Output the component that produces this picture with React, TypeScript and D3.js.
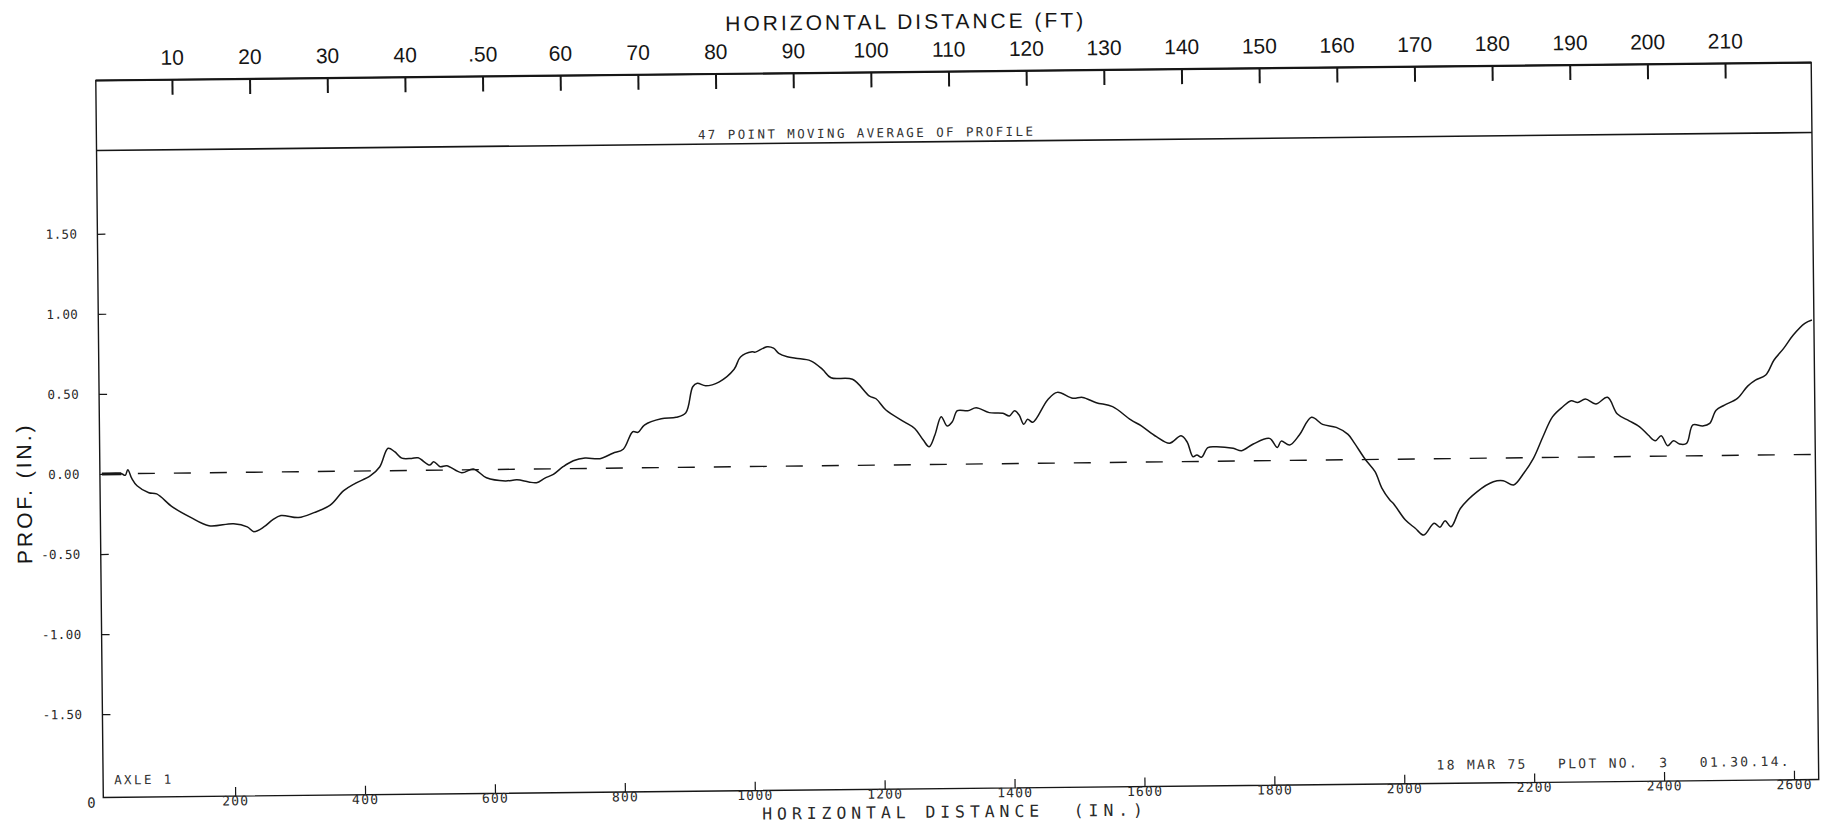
import React, { useRef, useEffect } from "react";
import * as d3 from "d3";

// profile: distance (in.) and 47 point moving average (in.)
const distanceIn = [
  0, 30, 36, 40, 46, 54, 72, 84, 108, 136, 164, 202, 223, 233, 249, 262, 275,
  302, 326, 351, 372, 390, 413, 428, 441, 451, 462, 477, 487, 505, 511, 521,
  531, 554, 572, 592, 621, 639, 657, 669, 682, 695, 710, 726, 744, 767, 787,
  803, 818, 826, 836, 862, 885, 900, 911, 918, 931, 952, 975, 985, 1003, 1008,
  1026, 1036, 1044, 1057, 1070, 1093, 1111, 1124, 1157, 1183, 1193, 1208, 1236,
  1252, 1265, 1274, 1283, 1293, 1302, 1310, 1318, 1334, 1347, 1367, 1388, 1398,
  1406, 1413, 1420, 1426, 1434, 1457, 1472, 1496, 1511, 1532, 1557, 1585, 1601,
  1624, 1644, 1662, 1671, 1680, 1686, 1693, 1703, 1716, 1742, 1755, 1773, 1798,
  1810, 1816, 1829, 1844, 1863, 1880, 1901, 1919, 1929, 1945, 1960, 1970, 1982,
  1988, 2006, 2021, 2034, 2050, 2059, 2067, 2076, 2091, 2117, 2142, 2157, 2173,
  2188, 2204, 2219, 2234, 2250, 2263, 2273, 2285, 2301, 2319, 2334, 2352, 2368,
  2381, 2392, 2401, 2411, 2420, 2429, 2440, 2450, 2465, 2476, 2486, 2499, 2519,
  2535, 2547, 2563, 2576, 2591, 2606, 2624, 2635,
];
const profileIn = [
  0, 0, -0.01, 0.025, -0.03, -0.076, -0.12, -0.128, -0.21, -0.277, -0.33,
  -0.319, -0.34, -0.37, -0.34, -0.298, -0.271, -0.285, -0.255, -0.21, -0.12,
  -0.075, -0.03, 0.027, 0.142, 0.12, 0.079, 0.077, 0.08, 0.034, 0.055, 0.023,
  0.029, -0.016, 0.007, -0.049, -0.07, -0.064, -0.078, -0.083, -0.055, -0.032,
  0.015, 0.052, 0.068, 0.063, 0.096, 0.12, 0.229, 0.225, 0.27, 0.308, 0.316,
  0.344, 0.506, 0.527, 0.511, 0.535, 0.612, 0.689, 0.72, 0.718, 0.751, 0.742,
  0.709, 0.687, 0.677, 0.66, 0.606, 0.553, 0.542, 0.436, 0.419, 0.348, 0.273,
  0.231, 0.158, 0.116, 0.189, 0.303, 0.244, 0.27, 0.339, 0.338, 0.356, 0.325,
  0.32, 0.303, 0.335, 0.308, 0.25, 0.281, 0.262, 0.4, 0.447, 0.409, 0.414, 0.38,
  0.354, 0.27, 0.232, 0.164, 0.122, 0.168, 0.13, 0.036, 0.047, 0.032, 0.092,
  0.097, 0.086, 0.071, 0.112, 0.146, 0.089, 0.128, 0.103, 0.165, 0.275, 0.23,
  0.21, 0.166, 0.109, 0.009, -0.069, -0.17, -0.245, -0.27, -0.373, -0.425,
  -0.468, -0.395, -0.42, -0.38, -0.418, -0.303, -0.2, -0.14, -0.134, -0.161,
  -0.093, 0.004, 0.138, 0.262, 0.324, 0.361, 0.35, 0.371, 0.339, 0.38, 0.275,
  0.232, 0.194, 0.142, 0.106, 0.137, 0.074, 0.105, 0.084, 0.087, 0.202, 0.195,
  0.211, 0.293, 0.324, 0.365, 0.441, 0.478, 0.509, 0.602, 0.674, 0.757, 0.829,
  0.849,
];

// dashed reference line
const baseDistance = [0, 2635];
const baseProfile = [0, 0.01];

const inchTicks = [200, 400, 600, 800, 1000, 1200, 1400, 1600, 1800, 2000, 2200, 2400, 2600];
const feetTicks = [10, 20, 30, 40, 50, 60, 70, 80, 90, 100, 110, 120, 130, 140, 150, 160, 170, 180, 190, 200, 210];
const feetLabels = ["10", "20", "30", "40", ".50", "60", "70", "80", "90", "100", "110", "120", "130", "140", "150", "160", "170", "180", "190", "200", "210"];
const profTicks = [1.5, 1, 0.5, 0, -0.5, -1, -1.5];
const profLabels = ["1.50", "1.00", "0.50", "0.00", "-0.50", "-1.00", "-1.50"];

const WIDTH = 1821;
const HEIGHT = 826;
const frame = { left: 99.5, right: 1815, top: 72, mid: 142, bottom: 789 };
// the scanned sheet sits a little crooked
const TILT = -0.6;
const PIVOT = [910, 430];

const PLOTTER = "'DejaVu Sans Mono', monospace";
const LETTERING = "'Liberation Sans', Arial, sans-serif";
const INK = "#161616";

function drawChart(svgEl: SVGSVGElement) {
  const svg = d3.select(svgEl);
  svg.selectAll("*").remove();

  svg.append("rect").attr("width", WIDTH).attr("height", HEIGHT).attr("fill", "#fff");

  const g = svg
    .append("g")
    .attr("transform", `rotate(${TILT}, ${PIVOT[0]}, ${PIVOT[1]})`);

  const x = d3.scaleLinear().domain([-3, 2638]).range([frame.left, frame.right]);
  const xFt = d3.scaleLinear().domain([0.2, 221.1]).range([frame.left, frame.right]);
  const y = d3.scaleLinear().domain([-2.02, 2.02]).range([frame.bottom, frame.mid]);

  // frame
  const box = g.append("g").attr("fill", "none").attr("stroke", INK);
  box
    .append("rect")
    .attr("x", frame.left)
    .attr("y", frame.top)
    .attr("width", frame.right - frame.left)
    .attr("height", frame.bottom - frame.top)
    .attr("stroke-width", 1.4);
  box
    .append("line")
    .attr("x1", frame.left)
    .attr("x2", frame.right)
    .attr("y1", frame.top)
    .attr("y2", frame.top)
    .attr("stroke-width", 2.2);
  box
    .append("line")
    .attr("x1", frame.left)
    .attr("x2", frame.right)
    .attr("y1", frame.mid)
    .attr("y2", frame.mid)
    .attr("stroke-width", 1.6);

  // top axis (feet), hand lettered
  const topAxis = g
    .append("g")
    .attr("transform", `translate(0, ${frame.top})`)
    .style("color", INK)
    .call(
      d3
        .axisTop(xFt)
        .tickValues(feetTicks)
        .tickFormat((d, i) => feetLabels[i])
        .tickSize(-15)
        .tickSizeOuter(0)
        .tickPadding(15)
    );
  topAxis.select(".domain").remove();
  topAxis.selectAll(".tick line").attr("stroke-width", 2);
  topAxis
    .selectAll(".tick text")
    .attr("font-family", LETTERING)
    .attr("font-size", 21)
    .attr("fill", INK);

  g.append("text")
    .attr("x", PIVOT[0])
    .attr("y", 29)
    .attr("text-anchor", "middle")
    .attr("font-family", LETTERING)
    .attr("font-size", 21)
    .attr("letter-spacing", 3)
    .attr("fill", INK)
    .text("HORIZONTAL DISTANCE (FT)");

  g.append("text")
    .attr("x", 701)
    .attr("y", 137)
    .attr("font-family", PLOTTER)
    .attr("font-size", 12.5)
    .attr("letter-spacing", 2.4)
    .attr("fill", "#333")
    .text("47 POINT MOVING AVERAGE OF PROFILE");

  // bottom axis (inches), plotter
  const bottomAxis = g
    .append("g")
    .attr("transform", `translate(0, ${frame.bottom})`)
    .style("color", INK)
    .call(
      d3
        .axisBottom(x)
        .tickValues(inchTicks)
        .tickFormat(d3.format("d"))
        .tickSize(-9)
        .tickSizeOuter(0)
        .tickPadding(0)
    );
  bottomAxis.select(".domain").remove();
  bottomAxis.selectAll(".tick line").attr("stroke-width", 1.2);
  bottomAxis
    .selectAll(".tick text")
    .attr("font-family", PLOTTER)
    .attr("font-size", 13)
    .attr("letter-spacing", 1.2)
    .attr("fill", "#2a2a2a");

  g.append("text")
    .attr("x", x(0) - 14)
    .attr("y", frame.bottom + 10)
    .attr("text-anchor", "middle")
    .attr("font-family", PLOTTER)
    .attr("font-size", 14)
    .attr("fill", "#2a2a2a")
    .text("0");

  g.append("text")
    .attr("x", 951)
    .attr("y", 818)
    .attr("text-anchor", "middle")
    .attr("font-family", PLOTTER)
    .attr("font-size", 16.5)
    .attr("letter-spacing", 4.9)
    .attr("fill", "#2a2a2a")
    .style("white-space", "pre")
    .text("HORIZONTAL DISTANCE  (IN.)");

  // left axis
  const leftAxis = g
    .append("g")
    .attr("transform", `translate(${frame.left}, 0)`)
    .style("color", INK)
    .call(
      d3
        .axisLeft(y)
        .tickValues(profTicks)
        .tickFormat((d, i) => profLabels[i])
        .tickSize(-8)
        .tickSizeOuter(0)
        .tickPadding(20)
    );
  leftAxis.select(".domain").remove();
  leftAxis.selectAll(".tick line").attr("stroke-width", 1.2);
  leftAxis
    .selectAll(".tick text")
    .attr("font-family", PLOTTER)
    .attr("font-size", 12.5)
    .attr("letter-spacing", 0.4)
    .attr("fill", "#2a2a2a");

  g.append("text")
    .attr("transform", `translate(31, 484) rotate(-90)`)
    .attr("text-anchor", "middle")
    .attr("font-family", LETTERING)
    .attr("font-size", 21)
    .attr("letter-spacing", 3)
    .attr("fill", INK)
    .text("PROF. (IN.)");

  // annotations in the plot corners
  g.append("text")
    .attr("x", frame.left + 11)
    .attr("y", 776)
    .attr("font-family", PLOTTER)
    .attr("font-size", 12.5)
    .attr("letter-spacing", 2.4)
    .attr("fill", "#333")
    .style("white-space", "pre")
    .text("AXLE 1");

  g.append("text")
    .attr("x", 1433)
    .attr("y", 775)
    .attr("font-family", PLOTTER)
    .attr("font-size", 13)
    .attr("letter-spacing", 2.3)
    .attr("fill", "#333")
    .style("white-space", "pre")
    .text("18 MAR 75   PLOT NO.  3   01.30.14.");

  // dashed reference line
  const baseLine = d3
    .line<number>()
    .x((d) => x(d))
    .y((d, i) => y(baseProfile[i]));
  g.append("path")
    .attr("d", baseLine(baseDistance))
    .attr("fill", "none")
    .attr("stroke", INK)
    .attr("stroke-width", 1.4)
    .attr("stroke-dasharray", "17 19");

  // profile
  const profileLine = d3
    .line<number>()
    .x((d) => x(d))
    .y((d, i) => y(profileIn[i]))
    .curve(d3.curveCatmullRom.alpha(0.5));
  g.append("path")
    .attr("d", profileLine(distanceIn))
    .attr("fill", "none")
    .attr("stroke", INK)
    .attr("stroke-width", 1.5)
    .attr("stroke-linejoin", "round");
  // heavier pen start at the origin
  g.append("path")
    .attr("d", profileLine(distanceIn.slice(0, 2)))
    .attr("fill", "none")
    .attr("stroke", INK)
    .attr("stroke-width", 3);
}

const App: React.FunctionComponent = function () {
  const svgRef = useRef<SVGSVGElement>(null);

  useEffect(() => {
    if (svgRef.current == null) {
      return;
    }
    drawChart(svgRef.current);
  }, []);

  return (
    <svg
      ref={svgRef}
      width={WIDTH}
      height={HEIGHT}
      style={{ position: "absolute", left: 0, top: 0, display: "block" }}
    ></svg>
  );
};

export default App;
